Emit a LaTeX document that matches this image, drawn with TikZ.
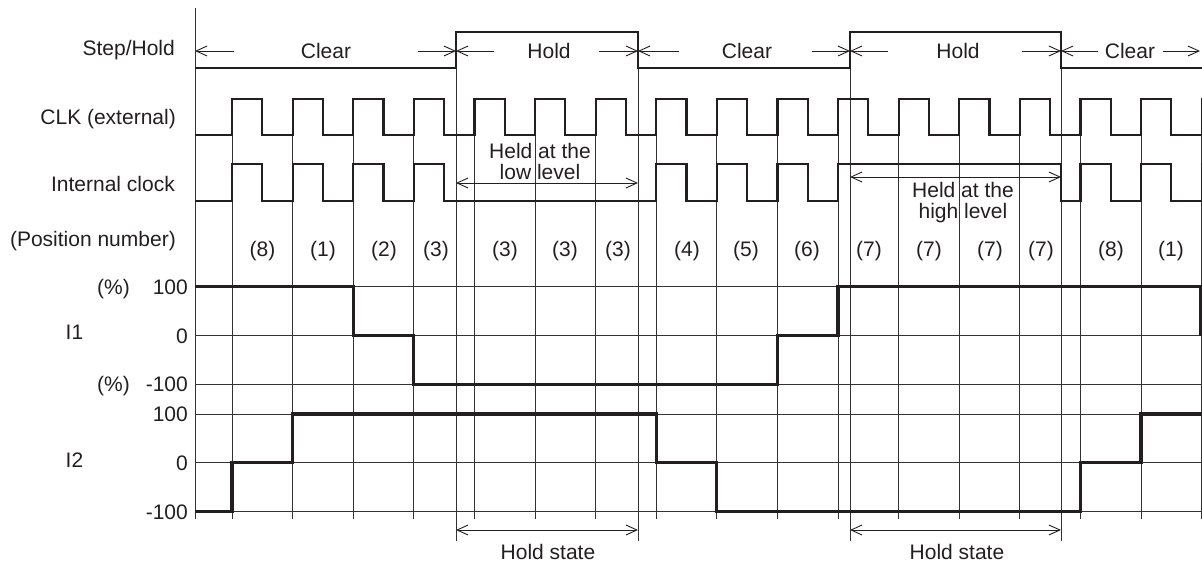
\documentclass[tikz,border=0pt]{standalone}
\usepackage{fontspec}
\setmainfont{Liberation Sans}
\usetikzlibrary{arrows.meta}
\definecolor{ink}{HTML}{231F20}
\definecolor{gridc}{HTML}{333333}
\begin{document}
\begin{tikzpicture}[x=1pt,y=-1pt,
  txt/.style={text=ink,font=\fontsize{21}{21}\selectfont,inner sep=0pt,anchor=base},
  rtxt/.style={txt,anchor=base east},
  gridline/.style={draw=gridc,line width=0.9pt},
  wave/.style={draw=ink,line width=2.2pt,line join=miter},
  levelw/.style={draw=ink,line width=3.3pt,line join=miter},
  barb/.style={draw=ink,line width=0.9pt,-{Straight Barb[length=11pt,width=10pt,line width=0.9pt]}},
  dbarb/.style={draw=ink,line width=0.9pt,{Straight Barb[length=11pt,width=10pt,line width=0.9pt]}-{Straight Barb[length=11pt,width=10pt,line width=0.9pt]}}
]
\useasboundingbox (0,0) rectangle (1202,564);

% ---------- grid ----------
\draw[gridline] (195,8) -- (195,519);
\foreach \k in {0,...,16}
  \draw[gridline] ({232+60.6*\k},99.3) -- ({232+60.6*\k},519);
\foreach \x in {456,638,850,1061}
  \draw[gridline] (\x,31.7) -- (\x,540.7);
\foreach \y in {286.7,335.7,384.3,414,462.7,511.7}
  \draw[gridline] (195,\y) -- (1202,\y);

% ---------- Step/Hold ----------
\draw[wave] (195,67.7) -- (456,67.7) -- (456,31.7) -- (638,31.7) -- (638,67.7)
  -- (850,67.7) -- (850,31.7) -- (1061,31.7) -- (1061,67.7) -- (1202,67.7);

% ---------- CLK (external) ----------
\draw[wave] (195,135)
  \foreach \k in {0,...,15}{ -- ({232+60.6*\k},135) -- ({232+60.6*\k},99.3)
     -- ({262.3+60.6*\k},99.3) -- ({262.3+60.6*\k},135) }
  -- (1201.6,135) -- (1201.6,99.3) -- (1203,99.3);

% ---------- Internal clock ----------
\draw[wave] (195,200.7)
  \foreach \k in {0,1,2,3,7,8,9}{ -- ({232+60.6*\k},200.7) -- ({232+60.6*\k},164.3)
     -- ({262.3+60.6*\k},164.3) -- ({262.3+60.6*\k},200.7) }
  -- (838,200.7) -- (838,164.3) -- (1061,164.3) -- (1061,200.7)
  \foreach \k in {14,15}{ -- ({232+60.6*\k},200.7) -- ({232+60.6*\k},164.3)
     -- ({262.3+60.6*\k},164.3) -- ({262.3+60.6*\k},200.7) }
  -- (1201.6,200.7) -- (1201.6,164.3) -- (1203,164.3);

% ---------- I1 ----------
\draw[levelw] (195,286.7) -- (353.2,286.7) -- (353.2,335.7) -- (413.8,335.7) -- (413.8,384.3)
  -- (777.4,384.3) -- (777.4,335.7) -- (838,335.7) -- (838,286.7) -- (1200.5,286.7) -- (1200.5,335.7);

% ---------- I2 ----------
\draw[levelw] (195,511.7) -- (232,511.7) -- (232,462.7) -- (292.6,462.7) -- (292.6,414)
  -- (656.2,414) -- (656.2,462.7) -- (716.8,462.7) -- (716.8,511.7) -- (1080.4,511.7)
  -- (1080.4,462.7) -- (1141,462.7) -- (1141,414) -- (1203,414);

% ---------- Step/Hold arrows ----------
\coordinate (c1a) at (195,51);  \coordinate (c1b) at (456,51);
\coordinate (c2a) at (638,51);  \coordinate (c2b) at (850,51);
\coordinate (c3a) at (1061,51); \coordinate (c3b) at (1200,51);
\coordinate (t1a) at (234,51);  \coordinate (t1b) at (418,51);
\coordinate (t2a) at (494,51);  \coordinate (t2b) at (599,51);
\coordinate (t3a) at (679,51);  \coordinate (t3b) at (812,51);
\coordinate (t4a) at (888,51);  \coordinate (t4b) at (1022,51);
\coordinate (t5a) at (1098,51); \coordinate (t5b) at (1163,51);
\draw[barb] (t1a) -- (c1a);  \draw[barb] (t1b) -- (c1b);
\draw[barb] (t2a) -- (c1b);  \draw[barb] (t2b) -- (c2a);
\draw[barb] (t3a) -- (c2a);  \draw[barb] (t3b) -- (c2b);
\draw[barb] (t4a) -- (c2b);  \draw[barb] (t4b) -- (c3a);
\draw[barb] (t5a) -- (c3a);  \draw[barb] (t5b) -- (c3b);
\node[txt] (clr1) at (326,58.3) {Clear};
\node[txt] (hld1) at (549,58.3) {Hold};
\node[txt] (clr2) at (747,58.3) {Clear};
\node[txt] (hld2) at (958,58.3) {Hold};
\node[txt] (clr3) at (1130,58.3) {Clear};

% ---------- held arrows ----------
\coordinate (hl1) at (456,183); \coordinate (hl2) at (638,183);
\coordinate (hh1) at (850,177); \coordinate (hh2) at (1061,177);
\draw[dbarb] (hl1) -- (hl2);
\draw[dbarb] (hh1) -- (hh2);
\node[txt] (heldlowa) at (540,158.3) {Held at the};
\node[txt] (heldlowb) at (540,180) {low level};
\node[txt] (heldhigha) at (963,197.3) {Held at the};
\node[txt] (heldhighb) at (963,218.3) {high level};

% ---------- hold state ----------
\coordinate (hs1) at (456,530); \coordinate (hs2) at (638,530);
\coordinate (hs3) at (850,530); \coordinate (hs4) at (1061,530);
\draw[dbarb] (hs1) -- (hs2);
\draw[dbarb] (hs3) -- (hs4);
\node[txt] (hst1) at (548,559.5) {Hold state};
\node[txt] (hst2) at (957,559.5) {Hold state};

% ---------- left labels ----------
\node[rtxt] (lsh) at (175,56) {Step/Hold};
\node[rtxt] (lclk) at (176,125) {CLK (external)};
\node[rtxt] (lint) at (175,191.7) {Internal clock};
\node[rtxt] (lpos) at (176,246.7) {(Position number)};
\node[txt] (pc1) at (113.5,294.2) {(\%)};
\node[txt] (pc2) at (113.5,391.8) {(\%)};
\node[txt] (li1) at (74.5,339.5) {I1};
\node[txt] (li2) at (74.5,467.5) {I2};
\node[rtxt] (a1) at (188,294.2) {100};
\node[rtxt] (a2) at (188,343.2) {0};
\node[rtxt] (a3) at (188,391.8) {-100};
\node[rtxt] (b1) at (188,421.5) {100};
\node[rtxt] (b2) at (188,470.2) {0};
\node[rtxt] (b3) at (188,519.2) {-100};

% ---------- position numbers ----------
\foreach \x/\t [count=\i] in {262.5/8,323/1,384/2,436/3,505/3,565/3,618/3,687/4,746/5,807/6,869/7,929/7,990/7,1041/7,1111/8,1171/1}
  \node[txt] (pn\i) at (\x,256.7) {(\t)};
\end{tikzpicture}
\end{document}
